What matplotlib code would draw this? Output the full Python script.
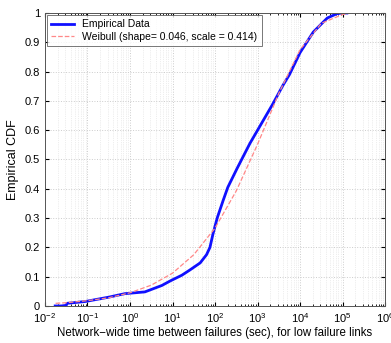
import numpy as np
import matplotlib.pyplot as plt

# empirical CDF (log10 of seconds, F)
emp_logx = [-1.76, -1.62, -1.50, -1.48, -1.06, -0.50, -0.12, 0.35, 0.75, 0.94,
            1.22, 1.41, 1.65, 1.80, 1.88, 1.95, 2.05, 2.19, 2.30, 2.52, 2.82,
            3.06, 3.36, 3.60, 3.75, 4.00, 4.31, 4.64, 4.87, 5.00, 5.10]
emp_cdf = [0.0, 0.0, 0.002, 0.009, 0.015, 0.030, 0.042, 0.048, 0.070, 0.085,
           0.105, 0.123, 0.147, 0.175, 0.200, 0.245, 0.300, 0.360, 0.405, 0.470, 0.555,
           0.615, 0.690, 0.754, 0.790, 0.865, 0.935, 0.983, 0.998, 1.0, 1.0]

# Weibull fit curve
wb_logx = [-1.75, -1.5, -1.0, -0.5, 0.0, 0.5, 1.0, 1.5, 2.0, 2.5, 3.0, 3.5, 4.0, 4.5, 5.0, 5.1]
wb_cdf = [0.009, 0.011, 0.018, 0.028, 0.045, 0.071, 0.112, 0.175, 0.266, 0.393,
          0.552, 0.726, 0.875, 0.965, 0.995, 0.997]

plt.rcParams['font.family'] = ['Liberation Sans', 'DejaVu Sans']

fig = plt.figure(figsize=(3.91, 3.43), dpi=100)
ax = fig.add_axes([0.115, 0.108, 0.87, 0.854])

ax.plot(10 ** np.array(emp_logx), emp_cdf, color='#1010ff', lw=2.0, label='Empirical Data')
ax.plot(10 ** np.array(wb_logx), wb_cdf, color='#ff8888', lw=0.9, ls='--',
        label='Weibull (shape= 0.046, scale = 0.414)')

ax.set_xscale('log')
ax.set_xlim(1e-2, 1e6)
ax.set_ylim(0, 1)
ax.set_xticks([10.0 ** k for k in range(-2, 7)])
ax.set_yticks(np.arange(0, 1.01, 0.1))
ax.set_yticklabels(['0', '0.1', '0.2', '0.3', '0.4', '0.5', '0.6', '0.7', '0.8', '0.9', '1'])
ax.tick_params(which='both', direction='in', labelsize=8, top=True, right=True)
ax.tick_params(which='major', length=3)
ax.tick_params(which='minor', length=1.5)

ax.grid(True, which='major', color='#cccccc', ls=':', lw=0.7)
ax.grid(True, which='minor', axis='x', color='#dddddd', ls=':', lw=0.5)
for s in ax.spines.values():
    s.set_color('#555555')
    s.set_linewidth(0.7)

ax.set_xlabel('Network\u2212wide time between failures (sec), for low failure links', fontsize=8.3, labelpad=2)
ax.set_ylabel('Empirical CDF', fontsize=9, labelpad=4)

leg = ax.legend(loc='upper left', fontsize=7.5, fancybox=False, edgecolor='#555555',
                borderaxespad=0.2, handlelength=2.2, borderpad=0.4, labelspacing=0.25)
leg.get_frame().set_linewidth(0.7)

fig.savefig('out.png', dpi=100)
